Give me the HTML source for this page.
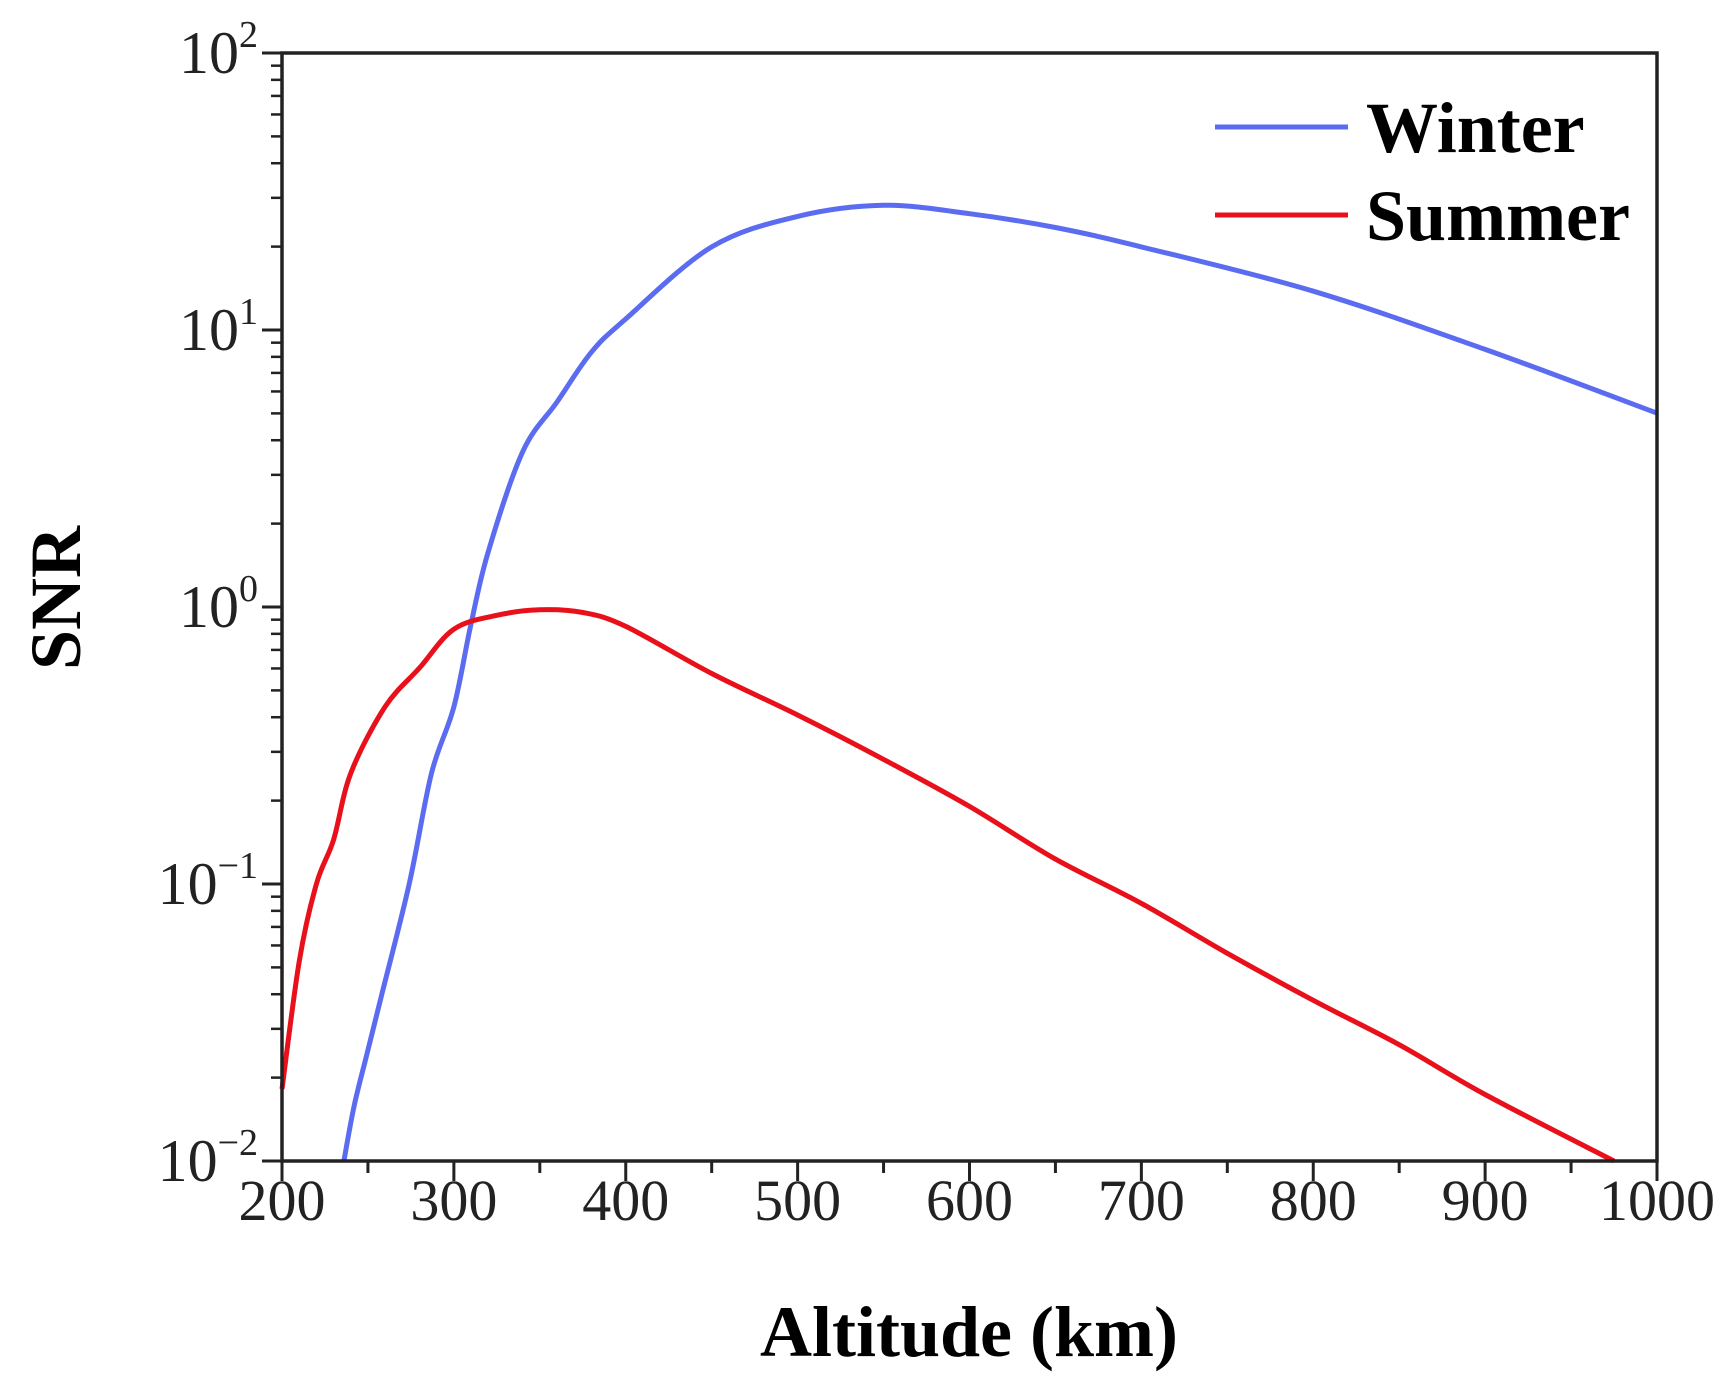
<!DOCTYPE html>
<html><head><meta charset="utf-8"><style>
html,body{margin:0;padding:0;background:#fff;}
svg{display:block;font-family:"Liberation Serif",serif;}
</style></head><body>
<svg id="chart" width="1732" height="1388" viewBox="0 0 1732 1388" xmlns="http://www.w3.org/2000/svg">
<g id="marks"></g>
<g id="axes"></g>
<g>
<line x1="1215" y1="127" x2="1348" y2="127" stroke="#5b6cf0" stroke-width="5"/>
<text x="1366" y="152" font-size="72" font-weight="bold">Winter</text>
<line x1="1215" y1="215" x2="1348" y2="215" stroke="#e8101a" stroke-width="5"/>
<text x="1366" y="240" font-size="72" font-weight="bold">Summer</text>
</g>
<text x="969" y="1356" font-size="72" font-weight="bold" text-anchor="middle">Altitude (km)</text>
<text transform="translate(80,598) rotate(-90)" font-size="72" font-weight="bold" text-anchor="middle">SNR</text>
</svg>
<script>
const winterAlt = [236,242,250,258,274,287,300,310,320,340,360,380,400,450,500,550,600,650,700,800,900,1000];
const winterLog = [-2,-1.8,-1.6,-1.4,-1,-0.6,-0.36,-0.06,0.2,0.56,0.74,0.92,1.04,1.3,1.41,1.45,1.42,1.37,1.3,1.14,0.93,0.7];
const summerAlt = [200,210,220,230,240,260,280,300,325,350,375,400,450,500,550,600,650,700,750,800,850,900,975];
const summerLog = [-1.74,-1.28,-1,-0.84,-0.6,-0.36,-0.22,-0.08,-0.03,-0.01,-0.02,-0.07,-0.24,-0.39,-0.55,-0.72,-0.91,-1.07,-1.25,-1.42,-1.58,-1.76,-2];
const xTicks = [200,300,400,500,600,700,800,900,1000];
const yDecades = [-2,-1,0,1,2];

const X0=282,X1=1657,Y0=1161,Y1=53;
const xs = a => X0+(a-200)/800*(X1-X0);
const ys = l => Y0-(l+2)/4*(Y0-Y1);
const NS="http://www.w3.org/2000/svg";
function mk(t,attrs,parent){const e=document.createElementNS(NS,t);for(const k in attrs)e.setAttribute(k,attrs[k]);parent.appendChild(e);return e;}
const marks=document.getElementById('marks'), axes=document.getElementById('axes');

function series(alt,lg,color,name){
  const P=alt.map((a,i)=>[xs(a),ys(lg[i])]);
  let d='M'+P[0][0].toFixed(1)+','+P[0][1].toFixed(1);
  for(let i=0;i<P.length-1;i++){
    const p0=P[Math.max(0,i-1)],p1=P[i],p2=P[i+1],p3=P[Math.min(P.length-1,i+2)];
    const c1=[p1[0]+(p2[0]-p0[0])/6,p1[1]+(p2[1]-p0[1])/6];
    const c2=[p2[0]-(p3[0]-p1[0])/6,p2[1]-(p3[1]-p1[1])/6];
    d+=' C'+c1.map(v=>v.toFixed(1)).join(',')+' '+c2.map(v=>v.toFixed(1)).join(',')+' '+p2.map(v=>v.toFixed(1)).join(',');
  }
  const p=mk('path',{d:d,fill:'none',stroke:color,'stroke-width':5,'stroke-linejoin':'round'},marks);
  
  
}
series(winterAlt,winterLog,'#5b6cf0','winter-line');
series(summerAlt,summerLog,'#e8101a','summer-line');

const frame=mk('rect',{x:X0,y:Y1,width:X1-X0,height:Y0-Y1,fill:'none',stroke:'#222','stroke-width':3.5},axes);



for(let a=200;a<=1000;a+=50){
  const major=a%100===0;
  const t=mk('line',{x1:xs(a),x2:xs(a),y1:Y0,y2:Y0+(major?20:12),stroke:'#222','stroke-width':3},axes);
  
  
}
xTicks.forEach(v=>{
  const t=mk('text',{x:xs(v),y:1220,'font-size':58,'text-anchor':'middle',fill:'#222'},axes);
  t.textContent=v;
  
  
});
yDecades.forEach((d,i)=>{
  const t=mk('line',{x1:X0-20,x2:X0,y1:ys(d),y2:ys(d),stroke:'#222','stroke-width':3},axes);
  
  
  if(i<yDecades.length-1){
    for(let m=2;m<=9;m++){
      const y=ys(d+Math.log10(m));
      const mt=mk('line',{x1:X0-11,x2:X0,y1:y,y2:y,stroke:'#222','stroke-width':2.5},axes);
      
      
    }
  }
  const lab=mk('text',{x:X0-24,y:ys(d)+20,'font-size':60,'text-anchor':'end',fill:'#222'},axes);
  
  
  const base=document.createElementNS(NS,'tspan');base.textContent='10';lab.appendChild(base);
  const sup=document.createElementNS(NS,'tspan');
  sup.setAttribute('dy','-26');sup.setAttribute('font-size','38');
  sup.textContent=(d<0?'\u2212'+(-d):String(d));
  lab.appendChild(sup);
});
</script>
</body></html>
